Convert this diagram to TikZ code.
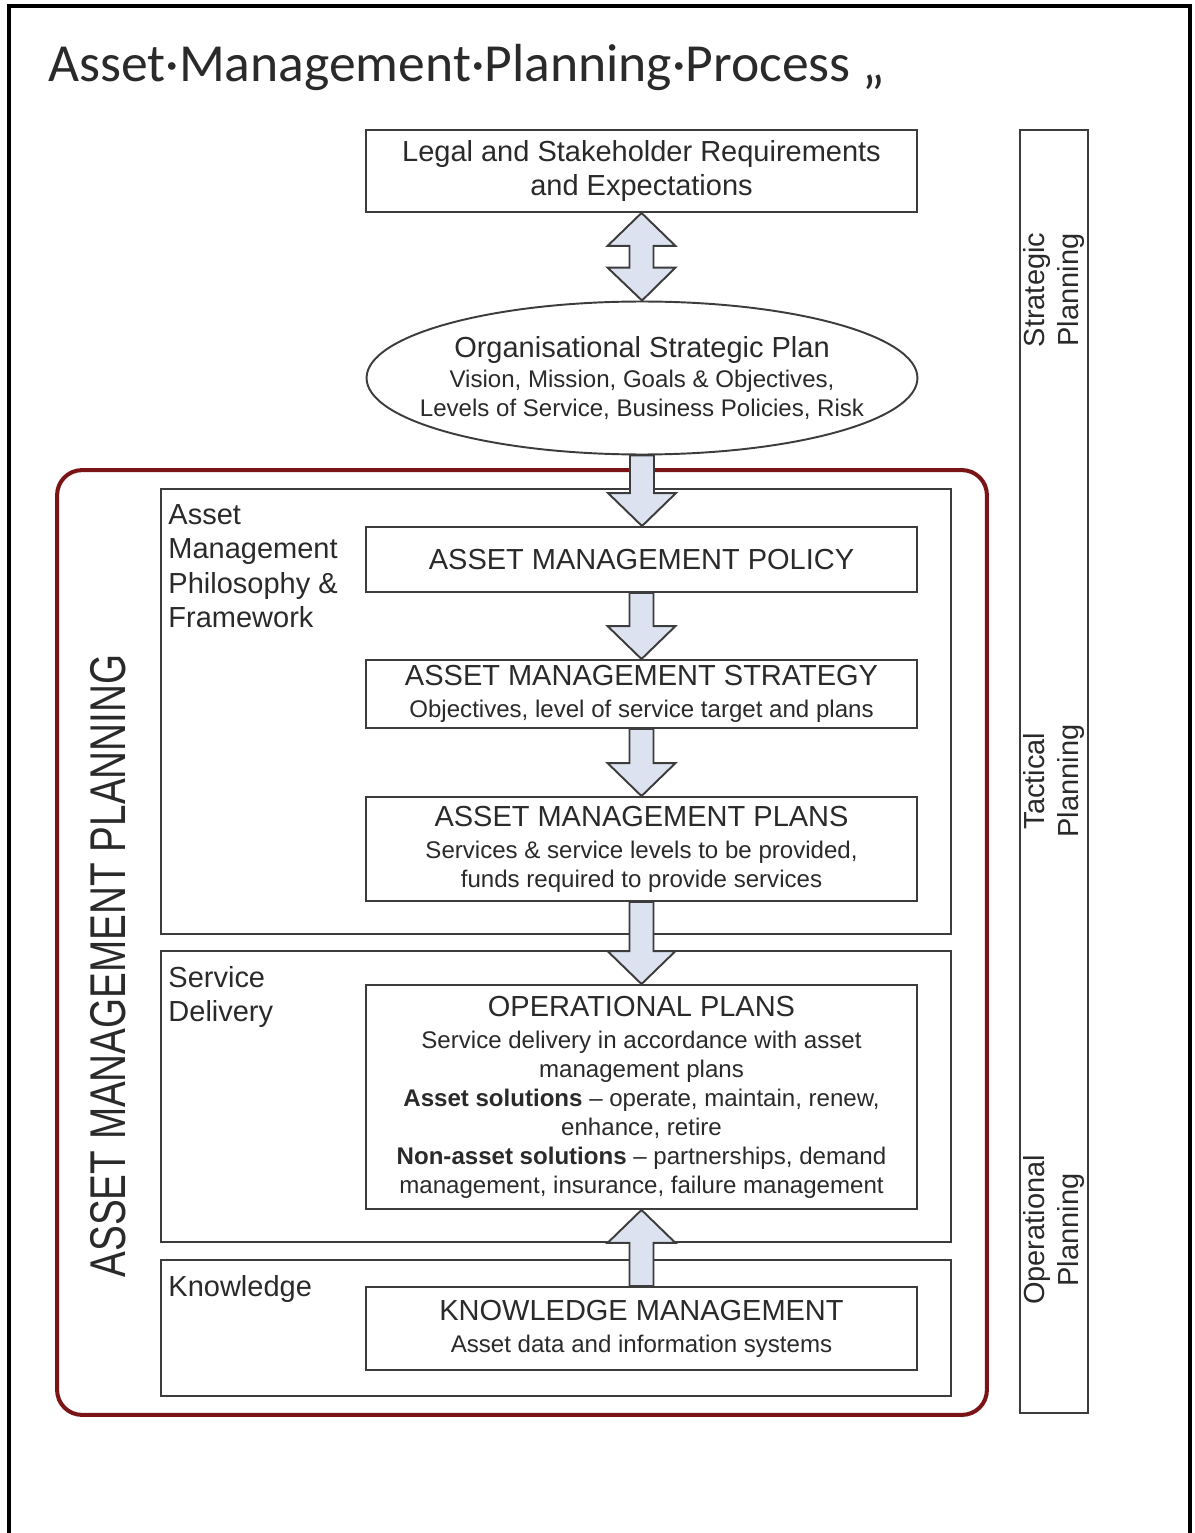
\documentclass[tikz,border=0pt]{standalone}
\usepackage{fontspec}
\setmainfont{Liberation Sans}
\newfontfamily\titlefont{Carlito}
\usetikzlibrary{shapes.geometric,calc}

\definecolor{boxline}{HTML}{3C3C3C}
\definecolor{arrowfill}{HTML}{DCE2F0}
\definecolor{amred}{HTML}{7A1416}
\definecolor{txt}{HTML}{2A2A2A}

\newcommand{\headsize}{\fontsize{16.5}{19}\selectfont}
\newcommand{\subsize}{\fontsize{13.7}{16.5}\selectfont}

% block arrow from base #1 to tip #2
\newcommand{\blockarrow}[2]{%
  \draw[blockarr] let \p1=(#1), \p2=(#2), \n1={ifthenelse(\y1>\y2,1,-1)} in
    (\x1-0.24cm,\y1) -- (\x1-0.24cm,\y2+\n1*0.66cm) -- (\x1-0.68cm,\y2+\n1*0.66cm)
    -- (\x1,\y2) -- (\x1+0.68cm,\y2+\n1*0.66cm) -- (\x1+0.24cm,\y2+\n1*0.66cm)
    -- (\x1+0.24cm,\y1) -- cycle;}
% double block arrow between tips #1 and #2
\newcommand{\dblarrow}[2]{%
  \draw[blockarr] let \p1=(#1), \p2=(#2) in
    (\x1,\y1) -- (\x1+0.68cm,\y1-0.66cm) -- (\x1+0.24cm,\y1-0.66cm)
    -- (\x1+0.24cm,\y2+0.66cm) -- (\x1+0.68cm,\y2+0.66cm) -- (\x2,\y2)
    -- (\x1-0.68cm,\y2+0.66cm) -- (\x1-0.24cm,\y2+0.66cm)
    -- (\x1-0.24cm,\y1-0.66cm) -- (\x1-0.68cm,\y1-0.66cm) -- cycle;}

\begin{document}
\begin{tikzpicture}[x=0.02cm,y=-0.02cm,
  box/.style={draw=boxline, line width=1.1pt, fill=white, text=txt,
    minimum width=11.02cm, align=center, inner sep=0pt, font=\subsize},
  section/.style={draw=boxline, line width=1.1pt, minimum width=15.8cm, inner sep=0pt},
  seclabel/.style={anchor=north west, align=left, text=txt, inner xsep=0.16cm, inner ysep=0.32cm,
    font=\fontsize{16.5}{19.6}\selectfont},
  levellabel/.style={rotate=90, align=center, text=txt, font=\fontsize{16.5}{19}\selectfont},
  blockarr/.style={draw=boxline, line width=1.1pt, fill=arrowfill, line join=miter}]
\useasboundingbox (0,0) rectangle (1195,1533);

% frame and title
\draw[line width=2.2pt] (9,1533) -- (9,6) -- (1190,6) -- (1190,1533);
\node[anchor=base west, inner sep=0pt, text=txt] (title) at (48,82)
  {\titlefont\fontsize{30.5}{36}\selectfont Asset·Management·Planning·Process „};

% planning levels
\node[draw=boxline, line width=1.1pt, minimum width=1.36cm, minimum height=25.66cm, inner sep=0pt]
  (levels) at (1054,771.5) {};
\node[levellabel] (strategic) at (1054,290) {Strategic\\Planning};
\node[levellabel] (tactical) at (1054,781) {Tactical\\Planning};
\node[levellabel] (operational) at (1054,1230) {Operational\\Planning};

% top of the process
\node[box, minimum height=1.64cm, font=\fontsize{16.5}{18.8}\selectfont] (legal) at (641.5,171)
  {Legal and Stakeholder Requirements\\and Expectations};
\node[draw=boxline, line width=1.1pt, fill=white, ellipse, minimum width=11.02cm,
  minimum height=3.06cm, inner sep=0pt] (osp) at (642,378) {};
\node[align=center, text=txt, font=\subsize, inner sep=0pt] (osptext) at (osp.center)
  {\headsize Organisational Strategic Plan\\[1.1pt]
   Vision, Mission, Goals \& Objectives,\\ Levels of Service, Business Policies, Risk};

% asset management planning
\node[draw=amred, line width=2.3pt, rounded corners=0.5cm, minimum width=18.6cm,
  minimum height=18.9cm, inner sep=0pt] (amp) at (522,942.5) {};
\node[rotate=90, text=txt, inner sep=0pt] (amplbl) at (108,966)
  {\scalebox{1}[1.3]{\fontsize{22}{26}\selectfont ASSET MANAGEMENT PLANNING}};

\node[section, minimum height=8.9cm] (philo) at (556,711.5) {};
\node[section, minimum height=5.82cm] (service) at (556,1096.5) {};
\node[section, minimum height=2.72cm] (knowledge) at (556,1328) {};
\node[seclabel] (philolbl) at (philo.north west) {Asset\\Management\\Philosophy \&\\Framework};
\node[seclabel] (servicelbl) at (service.north west) {Service\\Delivery};
\node[seclabel] (knowledgelbl) at (knowledge.north west) {Knowledge};

\node[box, minimum height=1.30cm] (policy) at (641.5,559.5) {\headsize ASSET MANAGEMENT POLICY};
\node[box, minimum height=1.36cm] (strategy) at (641.5,694)
  {\headsize ASSET MANAGEMENT STRATEGY\\[1.7pt]
   Objectives, level of service target and plans};
\node[box, minimum height=2.08cm] (plans) at (641.5,849)
  {\headsize ASSET MANAGEMENT PLANS\\[1.7pt]
   Services \& service levels to be provided,\\ funds required to provide services};
\node[box, minimum height=4.48cm] (ops) at (641.5,1097)
  {\headsize OPERATIONAL PLANS\\[1.7pt]
   Service delivery in accordance with asset\\ management plans\\
   \textbf{Asset solutions} -- operate, maintain, renew,\\ enhance, retire\\
   \textbf{Non-asset solutions} -- partnerships, demand\\
   management, insurance, failure management};
\node[box, minimum height=1.66cm] (km) at (641.5,1328.5)
  {\headsize KNOWLEDGE MANAGEMENT\\[1.7pt] Asset data and information systems};

% arrows
\dblarrow{legal.south}{osp.north}
\blockarrow{osp.south}{policy.north}
\blockarrow{policy.south}{strategy.north}
\blockarrow{strategy.south}{plans.north}
\blockarrow{plans.south}{ops.north}
\blockarrow{km.north}{ops.south}
\end{tikzpicture}
\end{document}
